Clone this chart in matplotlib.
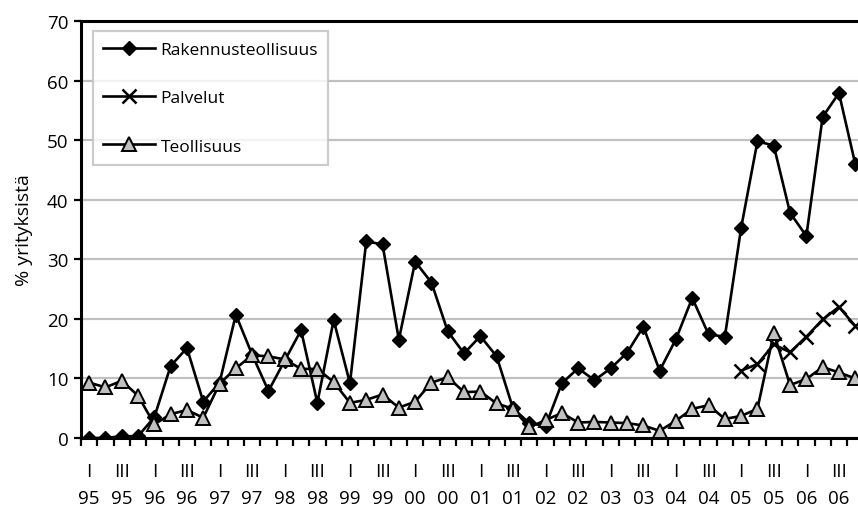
import matplotlib
matplotlib.use("Agg")
import matplotlib.pyplot as plt
import numpy as np

plt.rcParams['font.family'] = ['Open Sans', 'DejaVu Sans']

years = ["95", "96", "97", "98", "99", "00", "01", "02", "03", "04", "05", "06"]
quarter_names = ["I", "II", "III", "IV"]

rakennus = [0.0, 0.0, 0.3, 0.3, 3.5, 12.1, 15.1, 6.1, 9.3, 20.7, 14.0, 7.9,
            13.0, 18.1, 5.9, 19.8, 9.2, 33.0, 32.5, 16.5, 29.6, 26.1, 17.9, 14.2,
            17.1, 13.7, 5.0, 2.5, 2.0, 9.2, 11.7, 9.7, 11.7, 14.3, 18.7, 11.3,
            16.6, 23.5, 17.4, 17.0, 35.3, 49.8, 49.1, 37.8, 33.9, 53.9, 57.9, 46.0]
palvelut = [None] * 40 + [11.3, 12.4, 15.7, 14.4, 17.0, 19.9, 22.0, 18.8]
teollisuus = [9.3, 8.5, 9.6, 7.1, 2.3, 4.0, 4.7, 3.4, 9.1, 11.7, 13.9, 13.7,
              13.2, 11.6, 11.6, 9.4, 5.9, 6.4, 7.3, 5.1, 6.1, 9.3, 10.2, 7.7,
              7.8, 5.8, 4.9, 1.8, 3.0, 4.2, 2.6, 2.7, 2.6, 2.5, 2.1, 1.2,
              2.9, 4.9, 5.5, 3.2, 3.7, 4.9, 17.6, 8.9, 9.9, 11.9, 11.0, 10.0]

labels = ["Rakennusteollisuus", "Palvelut", "Teollisuus"]
ylabel = "% yrityksistä"

n = len(rakennus)
x = np.arange(n)
pal = np.array([np.nan if v is None else v for v in palvelut], dtype=float)

fig = plt.figure(figsize=(8.58, 5.10), dpi=100)
ax = fig.add_axes([81/858, 71/510, (48*16.3)/858, 417/510])

ax.plot(x, rakennus, color='black', lw=1.9, marker='D', ms=7.3,
        mfc='black', mec='black', label=labels[0], zorder=3)
ax.plot(x, pal, color='black', lw=1.9, marker='x', ms=10, mew=1.8,
        mec='black', label=labels[1], zorder=3)
ax.plot(x, teollisuus, color='black', lw=1.9, marker='^', ms=9.5,
        mfc='#c0c0c0', mec='black', mew=1.4, label=labels[2], zorder=4)

ax.set_xlim(-0.5, n - 0.5)
ax.set_ylim(0, 70)
ax.set_yticks(np.arange(0, 71, 10))
ax.yaxis.grid(True, color='#c0c0c0', lw=1.6)
ax.set_axisbelow(True)

major = np.arange(0, n, 2)
xt_labels = [f"{quarter_names[i % 4]}\n{years[i // 4]}" for i in major]
ax.set_xticks(major)
ax.set_xticklabels(xt_labels, linespacing=1.7)
ax.set_xticks(np.arange(-0.5, n, 1), minor=True)
ax.tick_params(axis='x', which='major', length=0, pad=17, labelsize=13.5)
ax.tick_params(axis='x', which='minor', length=6, width=1.6, direction='out')
ax.tick_params(axis='y', length=5, width=1.6, labelsize=13.5, pad=4)

for s in ax.spines.values():
    s.set_linewidth(2.2)
    s.set_color('black')

ax.set_ylabel(ylabel, fontsize=14, labelpad=10)

leg = ax.legend(loc='upper left', bbox_to_anchor=(0.015, 0.975), fontsize=12.5,
                frameon=True, fancybox=False, edgecolor='#c0c0c0',
                labelspacing=1.85, handlelength=3.0, handletextpad=0.3,
                borderpad=0.6, borderaxespad=0)
leg.get_frame().set_linewidth(1.6)

fig.savefig("out.png", dpi=100)
